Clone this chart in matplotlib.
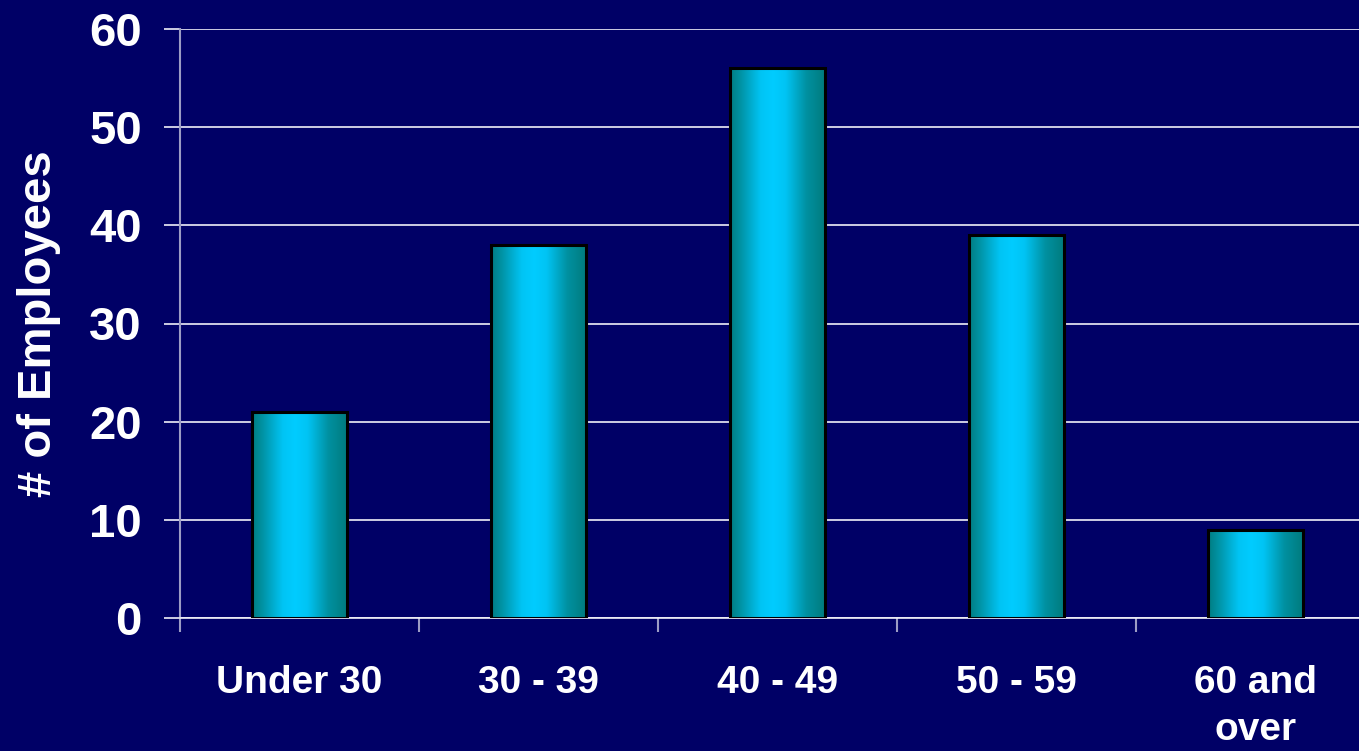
import numpy as np
import matplotlib
matplotlib.use("Agg")
import matplotlib.pyplot as plt
from matplotlib.colors import LinearSegmentedColormap
from matplotlib.patches import Rectangle

categories = ["Under 30", "30 - 39", "40 - 49", "50 - 59", "60 and\nover"]
employees = [21, 38, 56, 39, 9]
y_ticks = [0, 10, 20, 30, 40, 50, 60]

bg = "#000066"
axis_gray = "#9c9cc4"

plt.rcParams["font.family"] = ["Liberation Sans", "DejaVu Sans"]
plt.rcParams["font.weight"] = "bold"

fig = plt.figure(figsize=(13.59, 7.51), dpi=100, facecolor=bg)
ax = fig.add_axes([180 / 1359, 1 - 618 / 751, 1195 / 1359, 589 / 751])
ax.set_facecolor(bg)

x = np.arange(len(categories))
bar_w = 0.4
ax.set_xlim(-0.5, len(categories) - 0.5)
ax.set_ylim(0, 60)

# horizontal grid lines
for t in y_ticks:
    ax.axhline(t, color="#f0f0f8", lw=1.2, zorder=1)

# bars with a left-right gradient (teal -> cyan -> teal)
cmap = LinearSegmentedColormap.from_list(
    "bar", [(0.0, "#007c80"), (0.12, "#0095a8"), (0.32, "#00c4f4"),
            (0.45, "#00ccff"), (0.58, "#00c4f4"), (0.8, "#0090a0"),
            (1.0, "#007a7c")])
grad = np.linspace(0, 1, 256).reshape(1, -1)
for xi, v in zip(x, employees):
    rect = Rectangle((xi - bar_w / 2, 0), bar_w, v, facecolor="none",
                     edgecolor="black", lw=2.2, zorder=4)
    ax.add_patch(rect)
    im = ax.imshow(grad, cmap=cmap, aspect="auto", zorder=3,
                   extent=(xi - bar_w / 2, xi + bar_w / 2, 0, v))
    im.set_clip_path(rect)

ax.set_yticks(y_ticks)
ax.set_xticks(x)
ax.set_xticklabels(categories, color="white", fontsize=28, fontweight="bold",
                   linespacing=1.4)
ax.set_xticks(np.arange(len(categories)) - 0.5, minor=True)
ax.tick_params(axis="x", which="major", length=0, pad=34)
ax.tick_params(axis="x", which="minor", length=10, width=1.5, color=axis_gray)
ax.tick_params(axis="y", length=11.5, width=1.2, color="#f0f0f8", pad=16,
               labelsize=34, labelcolor="white")
for lbl in ax.get_yticklabels():
    lbl.set_fontweight("bold")

for s in ["top", "right"]:
    ax.spines[s].set_visible(False)
ax.spines["left"].set_color(axis_gray)
ax.spines["left"].set_linewidth(1.5)
ax.spines["bottom"].set_color("#f0f0f8")
ax.spines["bottom"].set_linewidth(1.2)

ax.set_ylabel("# of Employees", color="white", fontsize=34, fontweight="bold",
              labelpad=20)

fig.savefig("out.png", dpi=100, facecolor=bg)
